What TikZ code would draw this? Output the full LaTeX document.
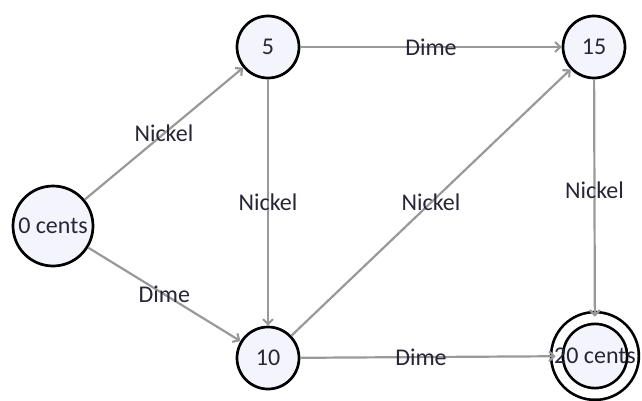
\documentclass[tikz,border=0pt]{standalone}
\usepackage{fontspec}
\setmainfont{Carlito}
\usetikzlibrary{arrows.meta}

\definecolor{statefill}{HTML}{F4F4FC}
\definecolor{edgegray}{HTML}{999999}
\definecolor{inktext}{HTML}{262636}

\begin{document}
\begin{tikzpicture}[x=1pt, y=-1pt,
    state/.style={circle, draw=black, line width=2.7pt, fill=statefill,
      text=inktext, inner sep=0pt, minimum size=62pt,
      font=\fontsize{24}{26}\selectfont},
    accept/.style={state, double=white, double distance=9pt,
      minimum size=76pt},
    trans/.style={draw=edgegray, line width=2.2pt,
      -{Straight Barb[length=5pt,width=10pt]}},
    coin/.style={text=inktext, font=\fontsize{24}{26}\selectfont}]

    \useasboundingbox (0,0) rectangle (642,401);

    % ==========================================
    % States (amount of money put in so far)
    % ==========================================
    \node[state, minimum size=80pt] (c0) at (53,226) {0 cents};
    \node[state] (c5)  at (268,47)  {5};
    \node[state] (c15) at (594,47)  {15};
    \node[state] (c10) at (268,358) {10};
    \node[accept, label={[coin]center:20 cents}] (c20) at (595,356) {};

    % ==========================================
    % Transitions (coin inserted)
    % ==========================================
    \draw[trans] (c0)  -- node[coin] {Nickel} (c5);
    \draw[trans] (c0)  -- node[coin] {Dime}   (c10);
    \draw[trans] (c5)  -- node[coin] {Dime}   (c15);
    \draw[trans] (c5)  -- node[coin] {Nickel} (c10);
    \draw[trans] (c10) -- node[coin] {Nickel} (c15);
    \draw[trans] (c10) -- node[coin, xshift=-7pt] {Dime} (c20);
    \draw[trans] (c15) -- node[coin, yshift=8pt] {Nickel} (c20);

\end{tikzpicture}
\end{document}
